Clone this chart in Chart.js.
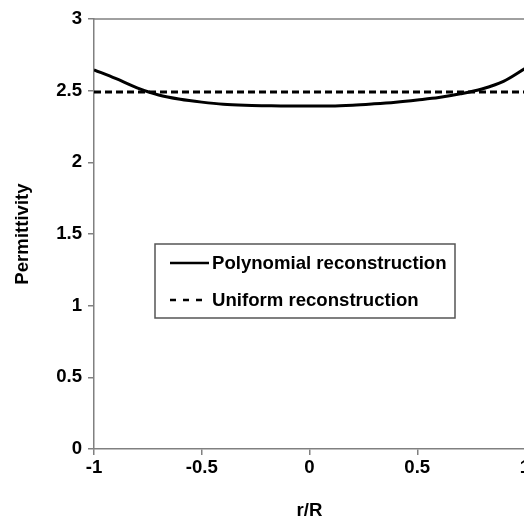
<!DOCTYPE html>
<html>
<head>
<meta charset="utf-8">
<script src="https://cdn.jsdelivr.net/npm/chart.js@4.4.0/dist/chart.umd.min.js"></script>
<style>
  html, body { margin: 0; padding: 0; background: #fff; overflow: hidden; }
  #wrap { position: relative; width: 540px; height: 522px; }
</style>
</head>
<body>
<div id="wrap"><canvas id="myChart"></canvas></div>
<script>
// r/R positions
const rValues = [-1, -0.9, -0.8, -0.7, -0.6, -0.5, -0.4, -0.3, -0.2, -0.1, 0, 0.1, 0.2, 0.3, 0.4, 0.5, 0.6, 0.7, 0.8, 0.9, 1];
// permittivity
const polyValues = [2.645, 2.585, 2.52, 2.47, 2.44, 2.42, 2.405, 2.398, 2.395, 2.393, 2.393, 2.393, 2.398, 2.408, 2.42, 2.435, 2.452, 2.478, 2.512, 2.565, 2.655];
const uniformValues = [2.49, 2.49, 2.49, 2.49, 2.49, 2.49, 2.49, 2.49, 2.49, 2.49, 2.49, 2.49, 2.49, 2.49, 2.49, 2.49, 2.49, 2.49, 2.49, 2.49, 2.49];
const seriesNames = ["Polynomial reconstruction", "Uniform reconstruction"];

const FONT = "'Liberation Sans', Arial, sans-serif";
Chart.defaults.font.family = FONT;
Chart.defaults.color = "#000";

function pts(ys){
	var out = [];
	for (let i=0;i<rValues.length;i++){
		out.push({x: rValues[i], y: ys[i]});
	}
	return out;
}

// box legend inside the plot + top border
const boxLegend = {
	id: 'boxLegend',
	afterDraw(chart){
		const ctx = chart.ctx;
		const a = chart.chartArea;
		ctx.save();
		// top frame line
		ctx.strokeStyle = '#808080';
		ctx.lineWidth = 1.5;
		ctx.beginPath();
		ctx.moveTo(a.left, a.top);
		ctx.lineTo(a.right, a.top);
		ctx.stroke();

		const bx = a.left + 61, by = a.top + 225, bw = 300, bh = 74;
		ctx.fillStyle = '#fff';
		ctx.fillRect(bx, by, bw, bh);
		ctx.strokeStyle = '#555';
		ctx.lineWidth = 1.5;
		ctx.strokeRect(bx, by, bw, bh);

		ctx.font = "bold 18.6px " + FONT;
		ctx.textBaseline = 'middle';
		ctx.fillStyle = '#000';
		const rows = [by + 19, by + 56];
		chart.data.datasets.forEach(function(ds, i){
			const y = rows[i];
			ctx.strokeStyle = '#000';
			ctx.lineWidth = 2.5;
			ctx.setLineDash(i == 1 ? [6, 7] : []);
			ctx.beginPath();
			ctx.moveTo(bx + 15, y);
			ctx.lineTo(bx + 54, y);
			ctx.stroke();
			ctx.setLineDash([]);
			ctx.fillText(ds.label, bx + 57, y + 1);
		});
		ctx.restore();
	}
};

function fmt(v){ return String(Math.round(v * 10) / 10); }

const ctx = document.getElementById('myChart').getContext('2d');
const myChart = new Chart(ctx, {
	type: 'line',
	data: {
		datasets: [{
			label: seriesNames[0],
			data: pts(polyValues),
			borderColor: '#000',
			borderWidth: 3,
			pointRadius: 0,
			cubicInterpolationMode: 'monotone'
		}, {
			label: seriesNames[1],
			data: pts(uniformValues),
			borderColor: '#000',
			borderWidth: 3,
			borderDash: [7, 4],
			pointRadius: 0
		}]
	},
	options: {
		responsive: true,
		maintainAspectRatio: false,
		animation: false,
		layout: { padding: { top: 19, right: 15, left: 0, bottom: 0 } },
		plugins: {
			legend: { display: false },
			tooltip: { enabled: false }
		},
		scales: {
			x: {
				type: 'linear',
				min: -1, max: 1,
				ticks: { stepSize: 0.5, font: { size: 18.6, weight: 'bold' }, padding: 2, maxRotation: 0, callback: fmt },
				grid: { display: true, drawOnChartArea: false, drawTicks: true, tickLength: 6, color: '#808080', lineWidth: 1.5 },
				border: { display: true, color: '#808080', width: 1.5 },
				title: { display: true, text: 'r/R', font: { size: 18.6, weight: 'bold' }, padding: { top: 21, bottom: 0 } },
				afterFit: function(s){ s.height = 73; }
			},
			y: {
				min: 0, max: 3,
				ticks: { stepSize: 0.5, font: { size: 18.6, weight: 'bold' }, padding: 6, callback: fmt },
				grid: { display: true, drawOnChartArea: false, drawTicks: true, tickLength: 6, color: '#808080', lineWidth: 1.5 },
				border: { display: true, color: '#808080', width: 1.5 },
				title: { display: true, text: 'Permittivity', font: { size: 18.6, weight: 'bold' }, padding: { top: 12, bottom: 0 } },
				afterFit: function(s){ s.width = 94; }
			}
		}
	},
	plugins: [boxLegend]
});
</script>
</body>
</html>
